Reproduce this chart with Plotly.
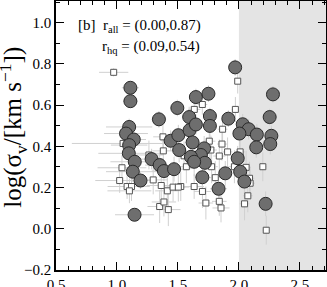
import plotly.graph_objects as go

# ---- data: filled circles (high-quality) ----
circ_x = [1.11, 1.11, 1.10, 1.074, 1.138, 1.10, 1.097, 1.146, 1.13, 1.193, 1.144,
          1.284, 1.35, 1.385, 1.468, 1.344, 1.495, 1.44, 1.503, 1.51, 1.595,
          1.647, 1.75, 1.969, 1.592, 1.762, 1.913, 1.647, 1.762, 1.62, 1.715,
          1.688, 1.721, 1.606, 1.633, 1.70, 1.833, 1.888, 2.031, 2.08, 2.004,
          2.147, 2.142, 2.266, 2.257, 2.252, 2.279, 1.99, 2.01, 2.045, 2.219]
circ_y = [0.684, 0.619, 0.494, 0.462, 0.433, 0.406, 0.366, 0.325, 0.277, 0.234, 0.068,
          0.338, 0.309, 0.28, 0.289, 0.531, 0.586, 0.427, 0.454, 0.382, 0.478,
          0.639, 0.655, 0.783, 0.542, 0.547, 0.534, 0.506, 0.499, 0.419, 0.39,
          0.358, 0.32, 0.349, 0.325, 0.25, 0.194, 0.269, 0.507, 0.483, 0.462,
          0.457, 0.395, 0.451, 0.411, 0.542, 0.652, 0.342, 0.277, 0.229, 0.121]
circ_xerr = [0.07, 0.06, 0.19, 0.18, 0.10, 0.15, 0.25, 0.20, 0.22, 0.12, 0.16,
             0.10, 0.12, 0.10, 0.08, 0.06, 0.05, 0.08, 0.07, 0.06, 0.06,
             0.04, 0.05, 0.04, 0.05, 0.05, 0.05, 0.06, 0.05, 0.06, 0.05,
             0.06, 0.05, 0.06, 0.05, 0.06, 0.07, 0.05, 0.05, 0.05, 0.04,
             0.04, 0.04, 0.04, 0.04, 0.04, 0.04, 0.05, 0.06, 0.05, 0.04]
circ_yerr = [0.03, 0.03, 0.04, 0.04, 0.04, 0.04, 0.05, 0.05, 0.05, 0.04, 0.03,
             0.05, 0.06, 0.05, 0.06, 0.04, 0.04, 0.05, 0.05, 0.06, 0.05,
             0.04, 0.04, 0.04, 0.05, 0.04, 0.04, 0.05, 0.05, 0.06, 0.06,
             0.06, 0.07, 0.06, 0.07, 0.07, 0.05, 0.06, 0.05, 0.05, 0.07,
             0.05, 0.05, 0.05, 0.05, 0.04, 0.04, 0.06, 0.06, 0.06, 0.06]

# ---- data: open squares (all) ----
sq_x = [0.973, 1.99, 1.634, 1.70, 1.971, 1.866, 1.757, 1.861, 1.907, 2.01, 1.77,
        1.839, 1.569, 1.776, 1.963, 2.059, 2.196, 1.806, 2.087, 2.092, 1.633,
        2.073, 2.046, 1.839, 1.853, 1.729, 1.701, 1.523, 2.224, 1.05, 1.041,
        1.022, 1.083, 1.119, 1.102, 1.262, 1.377, 1.38, 1.297, 1.363, 1.413,
        1.46, 1.503, 1.35, 1.385, 1.421, 1.55]
sq_y = [0.759, 0.716, 0.579, 0.603, 0.579, 0.483, 0.425, 0.411, 0.373, 0.373, 0.382,
        0.353, 0.301, 0.301, 0.301, 0.298, 0.301, 0.248, 0.245, 0.221, 0.205,
        0.16, 0.121, 0.133, 0.101, 0.125, 0.181, 0.205, -0.007, 0.414, 0.296,
        0.234, 0.205, 0.205, 0.184, 0.358, 0.446, 0.378, 0.237, 0.21, 0.184,
        0.202, 0.202, 0.108, 0.13, 0.093, 0.354]
sq_xerr = [0.12, 0.02, 0.05, 0.04, 0.03, 0.04, 0.05, 0.04, 0.04, 0.04, 0.05,
           0.05, 0.10, 0.05, 0.05, 0.04, 0.03, 0.05, 0.04, 0.04, 0.08,
           0.04, 0.04, 0.06, 0.07, 0.06, 0.07, 0.09, 0.03, 0.42, 0.20,
           0.20, 0.16, 0.15, 0.18, 0.12, 0.08, 0.09, 0.12, 0.12, 0.10,
           0.10, 0.09, 0.10, 0.10, 0.10, 0.08]
sq_yerr = [0.02, 0.06, 0.05, 0.05, 0.06, 0.07, 0.08, 0.08, 0.07, 0.08, 0.07,
           0.08, 0.08, 0.08, 0.08, 0.08, 0.07, 0.08, 0.08, 0.08, 0.06,
           0.08, 0.08, 0.07, 0.07, 0.08, 0.08, 0.07, 0.07, 0.05, 0.06,
           0.06, 0.06, 0.07, 0.06, 0.07, 0.08, 0.08, 0.07, 0.08, 0.08,
           0.07, 0.07, 0.08, 0.07, 0.08, 0.07]

x_range = [0.5, 2.714]
y_range = [-0.2, 1.105]
shade_start = 2.0
label_line1 = "[b]  r<sub>all</sub> = (0.00,0.87)"
label_line2 = "r<sub>hq</sub> = (0.09,0.54)"
y_title = "log(σ<sub>v</sub>/[km s<sup>−1</sup>])"

FONT = "Liberation Serif, Times New Roman, serif"
ERR = "#d0d0d0"

fig = go.Figure()

# error bars first (under all markers)
fig.add_trace(go.Scatter(
    x=sq_x, y=sq_y, mode="markers",
    marker=dict(size=1, color="rgba(0,0,0,0)"),
    error_x=dict(type="data", array=sq_xerr, color=ERR, thickness=1, width=0),
    error_y=dict(type="data", array=sq_yerr, color=ERR, thickness=1, width=0),
    showlegend=False, hoverinfo="skip"))
fig.add_trace(go.Scatter(
    x=circ_x, y=circ_y, mode="markers",
    marker=dict(size=1, color="rgba(0,0,0,0)"),
    error_x=dict(type="data", array=circ_xerr, color=ERR, thickness=1, width=0),
    error_y=dict(type="data", array=circ_yerr, color=ERR, thickness=1, width=0),
    showlegend=False, hoverinfo="skip"))

fig.add_trace(go.Scatter(
    x=sq_x, y=sq_y, mode="markers",
    marker=dict(symbol="square", size=6, color="white",
                line=dict(color="#555555", width=1)),
    showlegend=False))
fig.add_trace(go.Scatter(
    x=circ_x, y=circ_y, mode="markers",
    marker=dict(symbol="circle", size=13, color="#6e6e6e",
                line=dict(color="#2a2a2a", width=1)),
    showlegend=False))

fig.add_shape(type="rect", xref="x", yref="paper", x0=shade_start, x1=x_range[1] + 1,
              y0=0, y1=1, fillcolor="#e4e4e4", line=dict(width=0), layer="below")

fig.add_annotation(x=0.66, y=0.985, xref="x", yref="y", text=label_line1,
                   showarrow=False, xanchor="left", yanchor="middle",
                   font=dict(family=FONT, size=15, color="black"))
fig.add_annotation(x=0.857, y=0.88, xref="x", yref="y", text=label_line2,
                   showarrow=False, xanchor="left", yanchor="middle",
                   font=dict(family=FONT, size=15, color="black"))

fig.add_annotation(x=-0.158, y=0.53, xref="paper", yref="paper", text=y_title,
                   showarrow=False, textangle=-90, xanchor="center", yanchor="middle",
                   font=dict(family=FONT, size=25, color="black"))

axis_common = dict(showgrid=False, zeroline=False, showline=True, linecolor="black",
                   linewidth=1.5, mirror="allticks", ticks="inside", ticklen=8,
                   tickwidth=1.2, tickcolor="black", automargin=False,
                   tickfont=dict(family=FONT, size=15, color="black"))

fig.update_xaxes(range=x_range, dtick=0.5, tick0=0.5, tickformat=".1f",
                 minor=dict(ticks="inside", ticklen=4, dtick=0.1, tickcolor="black",
                            tickwidth=1),
                 **axis_common)
fig.update_yaxes(range=y_range, dtick=0.2, tick0=0.0, tickformat=".1f",
                 minor=dict(ticks="inside", ticklen=4, dtick=0.1, tickcolor="black",
                            tickwidth=1),
                 **axis_common)

fig.update_layout(width=327, height=287, margin=dict(l=56, r=1, t=1, b=17),
                  plot_bgcolor="white", paper_bgcolor="white",
                  font=dict(family=FONT), showlegend=False)

fig.write_html("out.html",
               config={"displayModeBar": False},
               post_script="document.body.style.margin='0px';"
                           "document.body.style.overflow='hidden';")
